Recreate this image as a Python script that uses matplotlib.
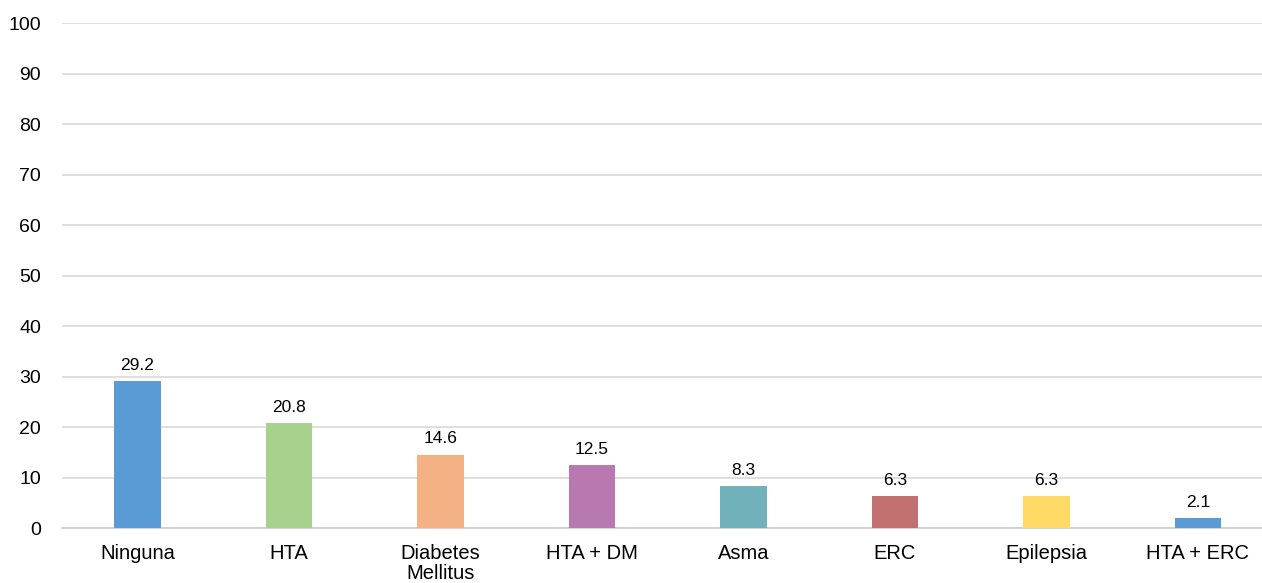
import matplotlib
matplotlib.use("Agg")
import matplotlib.pyplot as plt

plt.rcParams["font.family"] = ["Liberation Sans", "DejaVu Sans"]

# Comorbilidades (%)
categories = ["Ninguna", "HTA", "Diabetes\nMellitus", "HTA + DM", "Asma", "ERC", "Epilepsia", "HTA + ERC"]
values = [29.2, 20.8, 14.6, 12.5, 8.3, 6.3, 6.3, 2.1]
colors = ["#5B9BD5", "#A9D18E", "#F4B183", "#B779B0", "#71B1B9", "#C27170", "#FFD966", "#5B9BD5"]
yticks = list(range(0, 101, 10))

fig = plt.figure(figsize=(12.62, 5.83), dpi=100)
W, H = 1262, 583
x0, x1 = 61.75, 1273.75
y0, y1 = 528.3, 23.3
ax = fig.add_axes([x0 / W, 1 - y0 / H, (x1 - x0) / W, (y0 - y1) / H])

pos = range(len(categories))
bars = ax.bar(pos, values, width=0.31, color=colors, zorder=3)
for b, v in zip(bars, values):
    ax.text(b.get_x() + b.get_width() / 2, v + 1.6, f"{v:.1f}",
            ha="center", va="bottom", fontsize=12.5, color="#000000")

ax.set_xlim(-0.5, len(categories) - 0.5)
ax.set_ylim(0, 100)
ax.set_yticks(yticks)
ax.set_xticks(list(pos))
ax.set_xticklabels(categories, fontsize=14.5, linespacing=1.12)
ax.tick_params(axis="y", labelsize=14, length=0, pad=15)
ax.tick_params(axis="x", length=0, pad=11)

ax.grid(axis="y", color="#D9D9D9", linewidth=1.2, zorder=0)
for s in ["top", "right", "left"]:
    ax.spines[s].set_visible(False)
ax.spines["bottom"].set_color("#D0D0D0")
ax.spines["bottom"].set_linewidth(1.3)

fig.savefig("out.png", dpi=100)
